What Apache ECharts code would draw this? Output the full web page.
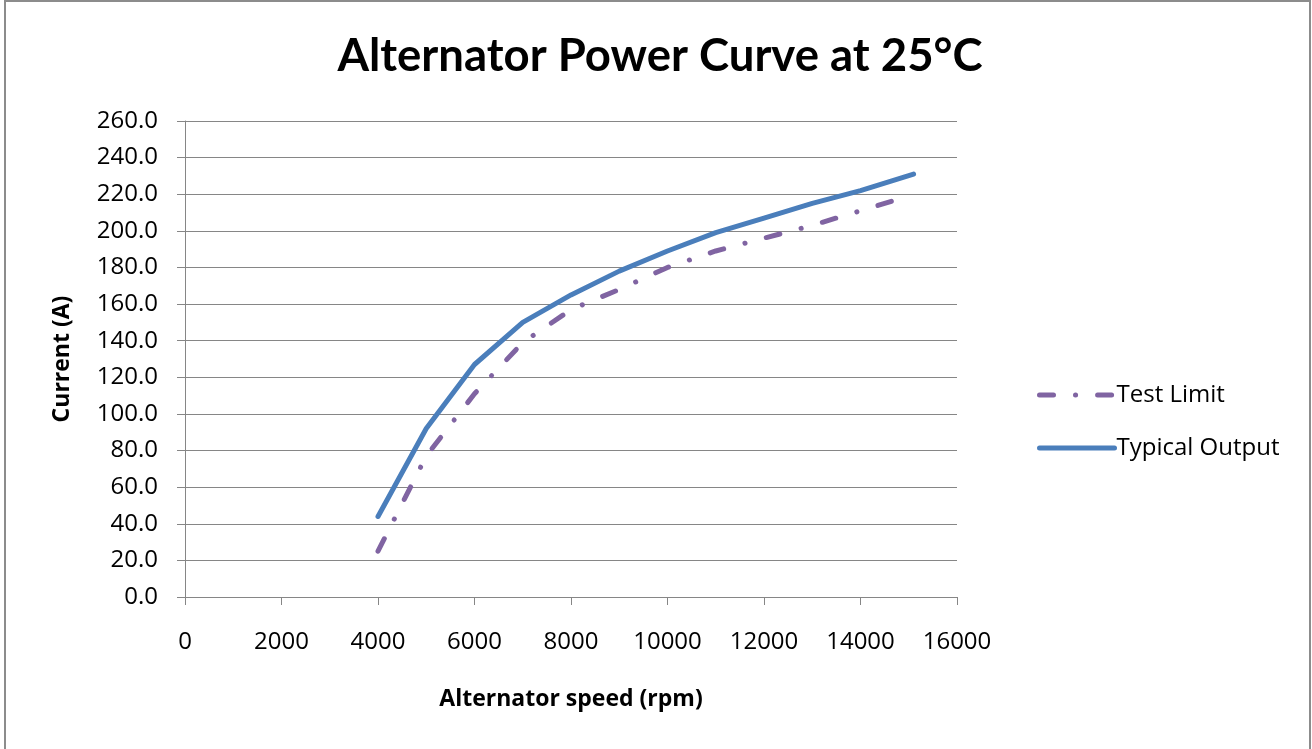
<!DOCTYPE html>
<html>
<head>
<meta charset="utf-8">
<script src="https://cdn.jsdelivr.net/npm/echarts@6/dist/echarts.min.js"></script>
<style>
html,body{margin:0;padding:0;background:#fff;}
#wrap{position:absolute;left:0;top:0;width:1312px;height:749px;overflow:hidden;}
#frame{position:absolute;left:4px;top:0;width:1303px;height:800px;border:2px solid #8c8c8c;border-bottom:none;}
#chart{position:absolute;left:0;top:0;width:1312px;height:749px;}
</style>
</head>
<body>
<div id="wrap"><div id="frame"></div><div id="chart"></div></div>
<script>
const titleText = 'Alternator Power Curve at 25°C';
const xAxisTitle = 'Alternator speed (rpm)';
const yAxisTitle = 'Current (A)';
const seriesNames = ['Test Limit', 'Typical Output'];

const testLimitSpeed = [4000, 5000, 6000, 7000, 8000, 9000, 10000, 11000, 12000, 13000, 14000, 15000];
const testLimitCurrent = [25, 77, 111, 139, 157, 168, 180, 189, 196, 203, 211, 219];

const typicalSpeed = [4000, 5000, 6000, 7000, 8000, 9000, 10000, 11000, 12000, 13000, 14000, 15100];
const typicalCurrent = [44, 92, 127, 150, 165, 178, 189, 199, 207, 215, 222, 231];

const TITLE_FONT = 'Lato';
const FONT = 'Open Sans';
const chart = echarts.init(document.getElementById('chart'), null, {renderer: 'canvas'});
chart.setOption({
  animation: false,
  backgroundColor: 'transparent',
  title: {
    text: titleText,
    left: 655, textAlign: 'center', top: 28,
    textStyle: {fontFamily: TITLE_FONT, fontWeight: 'bold', fontSize: 45.5, color: '#000'}
  },
  grid: {left: 185, top: 121, width: 772, height: 476, containLabel: false},
  legend: {
    orient: 'vertical', left: 1032, top: 378,
    itemWidth: 75, itemHeight: 14, itemGap: 29,
    itemStyle: {opacity: 0},
    lineStyle: {width: 5, cap: 'round'},
    textStyle: {fontFamily: FONT, fontSize: 24, color: '#000', padding: [0, 0, 0, -3]},
    data: seriesNames
  },
  xAxis: {
    type: 'value', min: 0, max: 16000, interval: 2000,
    name: xAxisTitle, nameLocation: 'middle', nameGap: 91,
    nameTextStyle: {fontFamily: FONT, fontWeight: 'bold', fontSize: 23, color: '#000'},
    axisLine: {show: true, lineStyle: {color: '#868686', width: 1}},
    axisTick: {show: true, length: 8, lineStyle: {color: '#868686'}},
    axisLabel: {fontFamily: FONT, fontSize: 24, color: '#000', margin: 33,
      formatter: v => String(v)},
    splitLine: {show: false}
  },
  yAxis: {
    type: 'value', min: 0, max: 260, interval: 20,
    name: yAxisTitle, nameLocation: 'middle', nameGap: 111,
    nameTextStyle: {fontFamily: FONT, fontWeight: 'bold', fontSize: 23, color: '#000'},
    axisLine: {show: true, lineStyle: {color: '#868686', width: 1}},
    axisTick: {show: true, length: 8, lineStyle: {color: '#868686'}},
    axisLabel: {fontFamily: FONT, fontSize: 24, color: '#000', margin: 27,
      formatter: v => v.toFixed(1)},
    splitLine: {show: true, lineStyle: {color: '#868686', width: 1}}
  },
  series: [
    {
      name: seriesNames[0], type: 'line', symbol: 'none', smooth: false,
      data: testLimitSpeed.map((s, i) => [s, testLimitCurrent[i]]),
      lineStyle: {color: '#8064A2', width: 5, type: [14, 22, 0.1, 22], cap: 'round'},
      itemStyle: {color: '#8064A2'}
    },
    {
      name: seriesNames[1], type: 'line', symbol: 'none', smooth: false,
      data: typicalSpeed.map((s, i) => [s, typicalCurrent[i]]),
      lineStyle: {color: '#4A7EBB', width: 5, cap: 'round'},
      itemStyle: {color: '#4A7EBB'}
    }
  ]
});
</script>
</body>
</html>
